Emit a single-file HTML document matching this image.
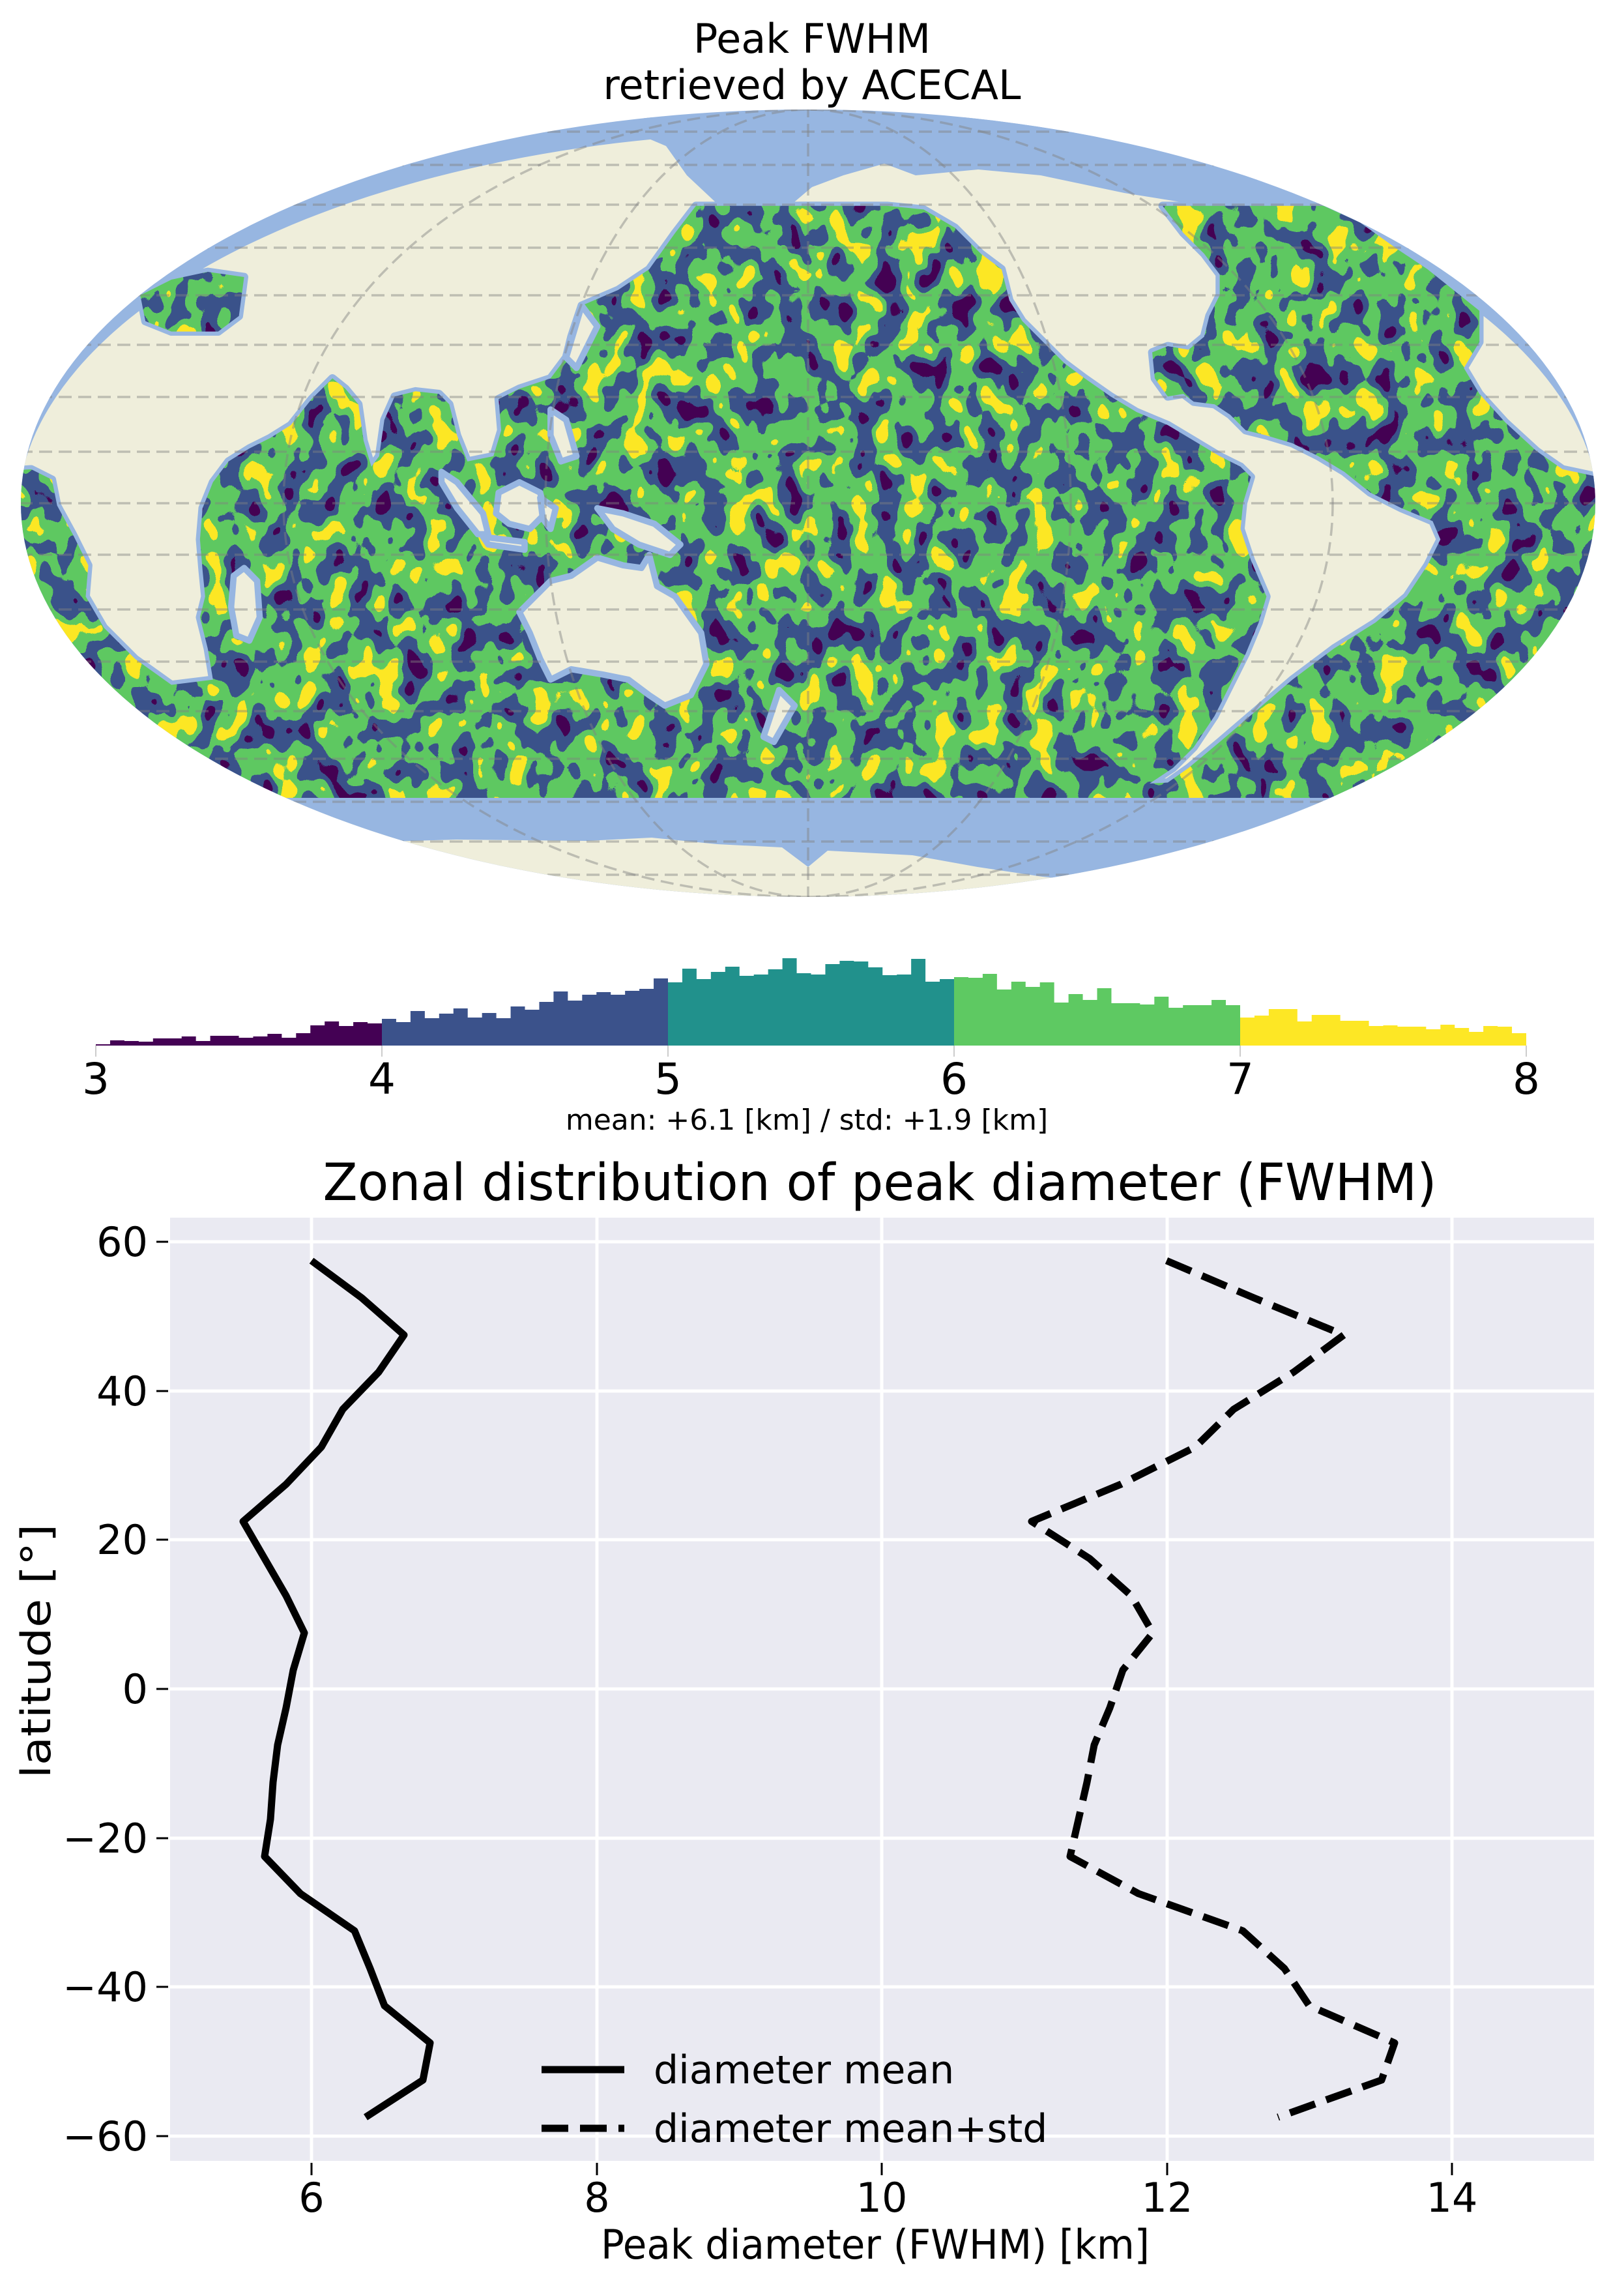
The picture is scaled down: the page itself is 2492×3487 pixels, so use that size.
<!DOCTYPE html>
<html><head><meta charset="utf-8">
<style>html,body{margin:0;padding:0;background:#fff}svg{display:block}text{font-family:"DejaVu Sans","Liberation Sans",sans-serif;fill:#000}</style>
</head><body>
<svg width="2492" height="3487" viewBox="0 0 2492 3487" xmlns="http://www.w3.org/2000/svg">
<defs>
<clipPath id="ell"><ellipse cx="1240" cy="772" rx="1208" ry="604"/></clipPath>
<filter id="noise" filterUnits="userSpaceOnUse" x="0" y="280" width="2492" height="1000" color-interpolation-filters="sRGB">
<feTurbulence type="fractalNoise" baseFrequency="0.026 0.02" numOctaves="2" seed="7"/>
<feColorMatrix type="matrix" values="1 0 0 0 0  1 0 0 0 0  1 0 0 0 0  0 0 0 0 1"/>
<feComponentTransfer>
<feFuncR type="discrete" tableValues="0.267 0.267 0.267 0.267 0.267 0.267 0.267 0.267 0.267 0.267 0.267 0.267 0.231 0.231 0.231 0.231 0.231 0.231 0.231 0.369 0.369 0.369 0.369 0.369 0.369 0.369 0.992 0.992 0.992 0.992 0.992 0.992 0.992 0.992 0.992 0.992 0.992 0.992 0.992 0.992"/>
<feFuncG type="discrete" tableValues="0.004 0.004 0.004 0.004 0.004 0.004 0.004 0.004 0.004 0.004 0.004 0.004 0.322 0.322 0.322 0.322 0.322 0.322 0.322 0.788 0.788 0.788 0.788 0.788 0.788 0.788 0.906 0.906 0.906 0.906 0.906 0.906 0.906 0.906 0.906 0.906 0.906 0.906 0.906 0.906"/>
<feFuncB type="discrete" tableValues="0.329 0.329 0.329 0.329 0.329 0.329 0.329 0.329 0.329 0.329 0.329 0.329 0.545 0.545 0.545 0.545 0.545 0.545 0.545 0.384 0.384 0.384 0.384 0.384 0.384 0.384 0.145 0.145 0.145 0.145 0.145 0.145 0.145 0.145 0.145 0.145 0.145 0.145 0.145 0.145"/>
<feFuncA type="discrete" tableValues="1"/>
</feComponentTransfer>
</filter>
<clipPath id="oce">
<path transform="translate(0,150) scale(0.797)" d="M1580,208 L1340,208 L1300,260 L1250,330 L1190,370 L1120,400 L1100,460 L1090,500 L1060,540 L1000,560 L960,580 L965,640 L950,690 L900,700 L880,650 L865,590 L845,570 L800,565 L760,575 L740,620 L730,690 L715,710 L700,660 L690,590 L665,560 L640,540 L600,580 L560,630 L520,655 L480,675 L440,700 L410,740 L390,790 L385,850 L390,910 L395,960 L385,1000 L400,1060 L410,1120 L330,1130 L260,1080 L200,1020 L165,960 L170,900 L140,840 L110,785 L100,735 L60,715 L-20,720 L-20,1348 L1580,1348 Z"/>
<path transform="translate(0,150) scale(0.797)" d="M270,380 L330,350 L400,335 L470,345 L460,420 L420,450 L330,450 L280,430 Z"/>
<path transform="translate(1242,150) scale(0.797)" d="M-20,208 L150,208 L220,215 L280,250 L330,300 L370,330 L385,390 L410,430 L450,470 L490,510 L530,540 L580,575 L630,605 L690,630 L740,660 L790,690 L830,710 L850,730 L835,780 L830,830 L850,890 L880,960 L865,1010 L840,1070 L810,1130 L780,1190 L740,1250 L700,1290 L655,1320 L690,1318 L730,1290 L790,1240 L860,1180 L930,1120 L1010,1060 L1090,1010 L1150,960 L1190,900 L1215,850 L1200,815 L1140,790 L1080,760 L1030,720 L980,690 L930,665 L880,650 L840,640 L810,610 L780,590 L740,585 L720,570 L690,575 L665,540 L660,490 L690,478 L730,485 L760,460 L770,420 L790,380 L790,340 L760,300 L720,260 L680,208 L990,208 L1060,240 L1130,290 L1190,330 L1240,370 L1290,410 L1290,470 L1260,520 L1290,570 L1340,625 L1400,680 L1450,715 L1520,730 L1620,730 L1620,1348 L-20,1348 Z"/>
</clipPath>
</defs>

<text x="1246" y="81" font-size="62" text-anchor="middle">Peak FWHM</text>
<text x="1246" y="152" font-size="62" text-anchor="middle">retrieved by ACECAL</text>

<g clip-path="url(#ell)">
<rect x="0" y="150" width="2492" height="1250" fill="#97b6e1"/>
<ellipse cx="1240" cy="792" rx="1214" ry="590" fill="#efeedb"/>
<path d="M990,180 L1597,180 L1725,224 L1916,269 L1996,310 L1837,314 L1725,296 L1597,269 L1501,260 L1405,269 L1357,251 L1294,269 L1246,287 L1214,314 L1102,314 L1054,269 L1022,224 L958,197 Z" fill="#97b6e1"/>
<g fill="#97b6e1" stroke="#97b6e1" stroke-width="16" stroke-linejoin="round">
<path transform="translate(0,150) scale(0.797)" d="M1580,208 L1340,208 L1300,260 L1250,330 L1190,370 L1120,400 L1100,460 L1090,500 L1060,540 L1000,560 L960,580 L965,640 L950,690 L900,700 L880,650 L865,590 L845,570 L800,565 L760,575 L740,620 L730,690 L715,710 L700,660 L690,590 L665,560 L640,540 L600,580 L560,630 L520,655 L480,675 L440,700 L410,740 L390,790 L385,850 L390,910 L395,960 L385,1000 L400,1060 L410,1120 L330,1130 L260,1080 L200,1020 L165,960 L170,900 L140,840 L110,785 L100,735 L60,715 L-20,720 L-20,1348 L1580,1348 Z"/>
<path transform="translate(0,150) scale(0.797)" d="M270,380 L330,350 L400,335 L470,345 L460,420 L420,450 L330,450 L280,430 Z"/>
<path transform="translate(1242,150) scale(0.797)" d="M-20,208 L150,208 L220,215 L280,250 L330,300 L370,330 L385,390 L410,430 L450,470 L490,510 L530,540 L580,575 L630,605 L690,630 L740,660 L790,690 L830,710 L850,730 L835,780 L830,830 L850,890 L880,960 L865,1010 L840,1070 L810,1130 L780,1190 L740,1250 L700,1290 L655,1320 L690,1318 L730,1290 L790,1240 L860,1180 L930,1120 L1010,1060 L1090,1010 L1150,960 L1190,900 L1215,850 L1200,815 L1140,790 L1080,760 L1030,720 L980,690 L930,665 L880,650 L840,640 L810,610 L780,590 L740,585 L720,570 L690,575 L665,540 L660,490 L690,478 L730,485 L760,460 L770,420 L790,380 L790,340 L760,300 L720,260 L680,208 L990,208 L1060,240 L1130,290 L1190,330 L1240,370 L1290,410 L1290,470 L1260,520 L1290,570 L1340,625 L1400,680 L1450,715 L1520,730 L1620,730 L1620,1348 L-20,1348 Z"/>
</g>
<g clip-path="url(#oce)"><rect x="0" y="280" width="2492" height="1000" fill="#3b528b" filter="url(#noise)"/></g>
<rect x="0" y="1224" width="2492" height="200" fill="#97b6e1"/>
<path d="M560,1292 L700,1288 L900,1290 L1000,1285 L1100,1295 L1200,1300 L1240,1330 L1270,1305 L1400,1312 L1500,1330 L1600,1345 L1750,1360 L1900,1390 L1900,1420 L500,1420 Z" fill="#efeedb"/>
<g fill="#efeedb" stroke="#97b6e1" stroke-width="12" stroke-linejoin="round" transform="translate(0,150) scale(0.797)">
<path d="M470,905 L495,930 L500,1000 L480,1045 L455,1035 L445,980 L450,920 Z"/>
<path d="M1000,990 L1060,930 L1100,920 L1150,885 L1200,900 L1235,905 L1250,880 L1265,940 L1300,960 L1350,1030 L1360,1090 L1330,1150 L1280,1170 L1250,1150 L1210,1120 L1160,1110 L1100,1100 L1060,1120 L1040,1080 L1020,1030 Z"/>
<path d="M1150,790 L1200,800 L1260,820 L1310,860 L1290,880 L1230,860 L1180,830 Z"/>
<path d="M960,760 L1000,740 L1040,760 L1050,800 L1020,830 L980,820 L955,800 Z"/>
<path d="M850,720 L880,740 L930,800 L940,840 L920,840 L880,790 L850,740 Z"/>
<path d="M930,845 L1010,855 L1010,870 L940,860 Z"/>
<path d="M1060,600 L1090,620 L1110,690 L1080,700 L1060,650 Z"/>
<path d="M1120,400 L1150,440 L1110,520 L1090,500 Z"/>
<path d="M1500,1140 L1530,1170 L1490,1240 L1470,1230 Z"/>
<path d="M1040,770 L1070,790 L1060,830 L1045,810 Z"/>
</g>
<g fill="none" stroke="#808080" stroke-opacity="0.45" stroke-width="3.5" stroke-dasharray="20 10">
<line x1="0" y1="772" x2="2492" y2="772"/>
<line x1="0" y1="693" x2="2492" y2="693"/><line x1="0" y1="851" x2="2492" y2="851"/>
<line x1="0" y1="609" x2="2492" y2="609"/><line x1="0" y1="935" x2="2492" y2="935"/>
<line x1="0" y1="529" x2="2492" y2="529"/><line x1="0" y1="1015" x2="2492" y2="1015"/>
<line x1="0" y1="453" x2="2492" y2="453"/><line x1="0" y1="1091" x2="2492" y2="1091"/>
<line x1="0" y1="380" x2="2492" y2="380"/><line x1="0" y1="1164" x2="2492" y2="1164"/>
<line x1="0" y1="314" x2="2492" y2="314"/><line x1="0" y1="1230" x2="2492" y2="1230"/>
<line x1="0" y1="253" x2="2492" y2="253"/><line x1="0" y1="1291" x2="2492" y2="1291"/>
<line x1="0" y1="202" x2="2492" y2="202"/><line x1="0" y1="1342" x2="2492" y2="1342"/>
<line x1="1240" y1="160" x2="1240" y2="1390"/>
<ellipse cx="1240" cy="772" rx="403" ry="604"/>
<ellipse cx="1240" cy="772" rx="805" ry="604"/>
</g>
</g>

<g>
<path fill="#440154" d="M147,1604 V1602 h21.95 V1596 h21.95 V1597 h21.95 V1598 h21.95 V1593 h21.95 V1593 h21.95 V1590 h21.95 V1597 h21.95 V1589 h21.95 V1589 h21.95 V1592 h21.95 V1590 h21.95 V1586 h21.95 V1592 h21.95 V1585 h21.95 V1573 h21.95 V1567 h21.95 V1574 h21.95 V1568 h21.95 V1570 h21.95 V1604 Z"/>
<path fill="#3b528b" d="M586,1604 V1563 h21.95 V1568 h21.95 V1551 h21.95 V1562 h21.95 V1555 h21.95 V1547 h21.95 V1561 h21.95 V1554 h21.95 V1562 h21.95 V1544 h21.95 V1549 h21.95 V1537 h21.95 V1521 h21.95 V1535 h21.95 V1526 h21.95 V1522 h21.95 V1526 h21.95 V1520 h21.95 V1517 h21.95 V1501 h21.95 V1604 Z"/>
<path fill="#21918c" d="M1025,1604 V1507 h21.95 V1486 h21.95 V1502 h21.95 V1491 h21.95 V1483 h21.95 V1497 h21.95 V1495 h21.95 V1487 h21.95 V1470 h21.95 V1493 h21.95 V1495 h21.95 V1479 h21.95 V1474 h21.95 V1475 h21.95 V1484 h21.95 V1496 h21.95 V1495 h21.95 V1471 h21.95 V1506 h21.95 V1502 h21.95 V1604 Z"/>
<path fill="#5ec962" d="M1464,1604 V1499 h21.95 V1500 h21.95 V1494 h21.95 V1518 h21.95 V1506 h21.95 V1514 h21.95 V1507 h21.95 V1538 h21.95 V1525 h21.95 V1534 h21.95 V1516 h21.95 V1539 h21.95 V1539 h21.95 V1541 h21.95 V1529 h21.95 V1546 h21.95 V1542 h21.95 V1542 h21.95 V1534 h21.95 V1542 h21.95 V1604 Z"/>
<path fill="#fde725" d="M1903,1604 V1561 h21.95 V1558 h21.95 V1548 h21.95 V1548 h21.95 V1567 h21.95 V1557 h21.95 V1557 h21.95 V1566 h21.95 V1566 h21.95 V1574 h21.95 V1573 h21.95 V1575 h21.95 V1575 h21.95 V1579 h21.95 V1572 h21.95 V1577 h21.95 V1583 h21.95 V1574 h21.95 V1575 h21.95 V1585 h21.95 V1604 Z"/>
<g stroke="#cccccc" stroke-width="2">
<line x1="147" y1="1604" x2="147" y2="1621"/><line x1="586" y1="1604" x2="586" y2="1621"/><line x1="1025" y1="1604" x2="1025" y2="1621"/><line x1="1464" y1="1604" x2="1464" y2="1621"/><line x1="1903" y1="1604" x2="1903" y2="1621"/><line x1="2342" y1="1604" x2="2342" y2="1621"/>
</g>
<g font-size="66" text-anchor="middle">
<text x="147" y="1678">3</text><text x="586" y="1678">4</text><text x="1025" y="1678">5</text><text x="1464" y="1678">6</text><text x="1903" y="1678">7</text><text x="2342" y="1678">8</text>
</g>
<text x="1238" y="1733" font-size="44" text-anchor="middle">mean: +6.1 [km] / std: +1.9 [km]</text>
</g>

<text x="1350" y="1841" font-size="78" text-anchor="middle" textLength="1709" lengthAdjust="spacingAndGlyphs">Zonal distribution of peak diameter (FWHM)</text>
<rect x="261" y="1868" width="2185" height="1447" fill="#eaeaf2"/>
<g stroke="#fff" stroke-width="5">
<line x1="478" y1="1868" x2="478" y2="3315"/><line x1="916" y1="1868" x2="916" y2="3315"/><line x1="1353" y1="1868" x2="1353" y2="3315"/><line x1="1791" y1="1868" x2="1791" y2="3315"/><line x1="2228" y1="1868" x2="2228" y2="3315"/>
<line x1="261" y1="1905" x2="2446" y2="1905"/><line x1="261" y1="2134" x2="2446" y2="2134"/><line x1="261" y1="2362" x2="2446" y2="2362"/><line x1="261" y1="2591" x2="2446" y2="2591"/><line x1="261" y1="2820" x2="2446" y2="2820"/><line x1="261" y1="3048" x2="2446" y2="3048"/><line x1="261" y1="3277" x2="2446" y2="3277"/>
</g>
<g stroke="#000" stroke-width="3">
<line x1="240" y1="1905" x2="258" y2="1905"/><line x1="240" y1="2134" x2="258" y2="2134"/><line x1="240" y1="2362" x2="258" y2="2362"/><line x1="240" y1="2591" x2="258" y2="2591"/><line x1="240" y1="2820" x2="258" y2="2820"/><line x1="240" y1="3048" x2="258" y2="3048"/><line x1="240" y1="3277" x2="258" y2="3277"/>
<line x1="478" y1="3318" x2="478" y2="3337"/><line x1="916" y1="3318" x2="916" y2="3337"/><line x1="1353" y1="3318" x2="1353" y2="3337"/><line x1="1791" y1="3318" x2="1791" y2="3337"/><line x1="2228" y1="3318" x2="2228" y2="3337"/>
</g>
<g font-size="62" text-anchor="end">
<text x="227" y="1927">60</text><text x="227" y="2156">40</text><text x="227" y="2384">20</text><text x="227" y="2613">0</text><text x="227" y="2842">−20</text><text x="227" y="3070">−40</text><text x="227" y="3299">−60</text>
</g>
<g font-size="62" text-anchor="middle">
<text x="478" y="3393">6</text><text x="916" y="3393">8</text><text x="1353" y="3393">10</text><text x="1791" y="3393">12</text><text x="2228" y="3393">14</text>
</g>
<text x="1343" y="3465" font-size="62" text-anchor="middle" textLength="842" lengthAdjust="spacingAndGlyphs">Peak diameter (FWHM) [km]</text>
<text transform="translate(77,2533) rotate(-90)" font-size="62" text-anchor="middle" textLength="390" lengthAdjust="spacingAndGlyphs">latitude [°]</text>

<polyline fill="none" stroke="#000" stroke-width="11" stroke-linejoin="round" points="478,1934 555,1991 620,2048 581,2105 526,2162 493,2220 439,2277 373,2334 406,2391 439,2448 467,2505 450,2562 439,2620 426,2677 419,2734 415,2791 406,2848 461,2905 544,2962 568,3020 590,3077 660,3134 649,3191 561,3248"/>
<polyline fill="none" stroke="#000" stroke-width="11" stroke-linejoin="round" stroke-dasharray="41 18" points="1790,1934 1924,1991 2062,2048 1985,2105 1893,2162 1834,2220 1720,2277 1583,2334 1672,2391 1736,2448 1769,2505 1723,2562 1703,2620 1679,2677 1668,2734 1655,2791 1642,2848 1747,2905 1907,2962 1971,3020 2009,3077 2140,3134 2120,3191 1961,3248"/>

<line x1="831" y1="3175" x2="958" y2="3175" stroke="#000" stroke-width="11"/>
<line x1="831" y1="3265" x2="958" y2="3265" stroke="#000" stroke-width="11" stroke-dasharray="41 18"/>
<text x="1003" y="3196" font-size="60">diameter mean</text>
<text x="1003" y="3286" font-size="60">diameter mean+std</text>
</svg>
</body></html>
